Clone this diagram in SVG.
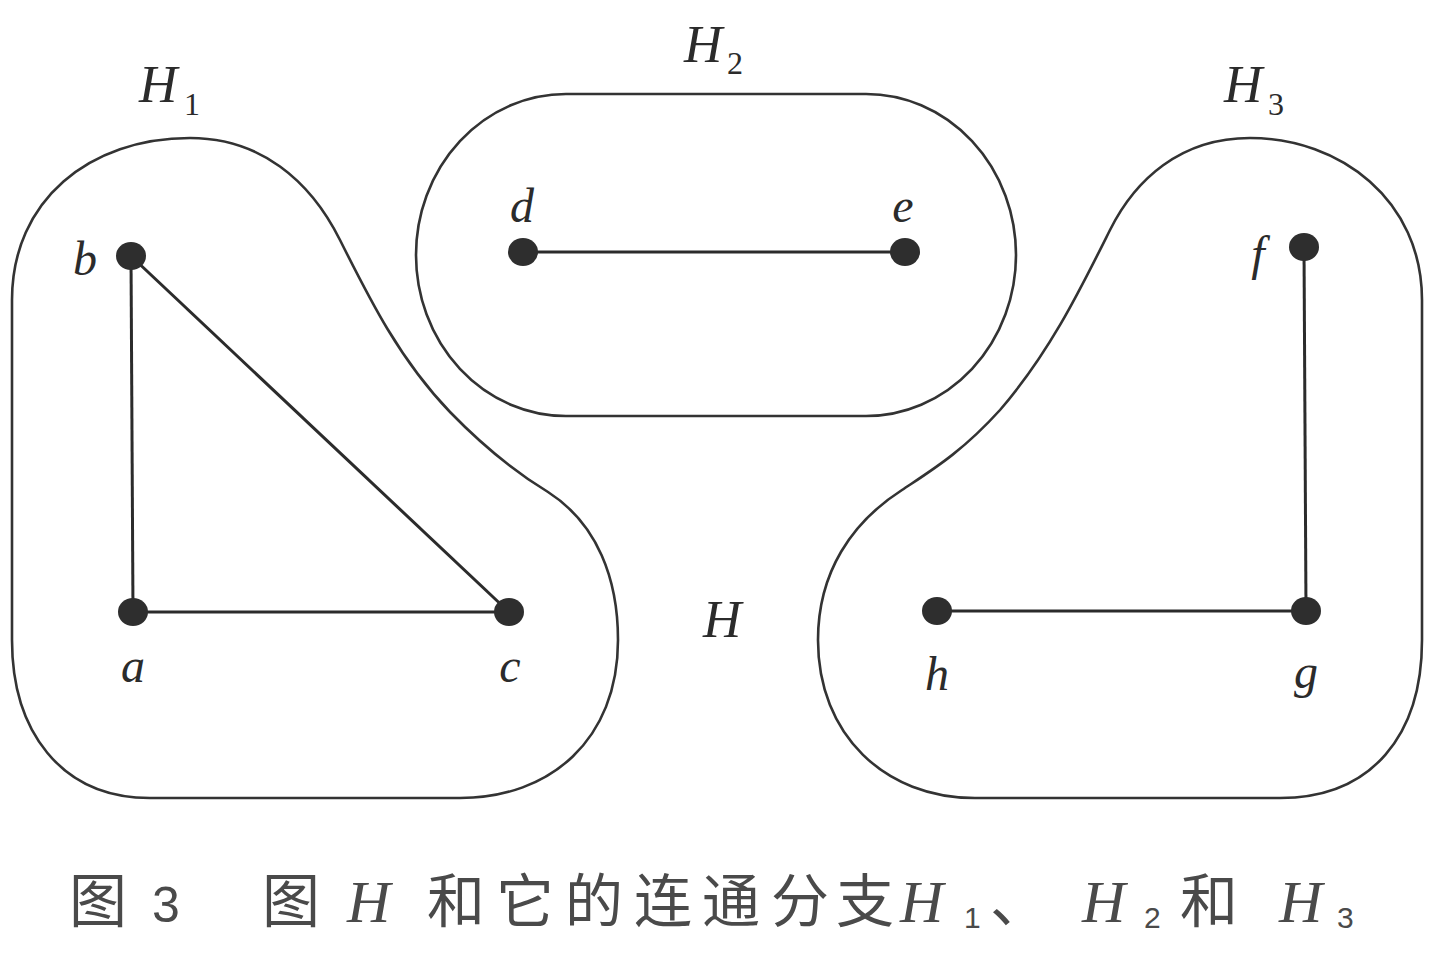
<svg xmlns="http://www.w3.org/2000/svg" width="1440" height="956" viewBox="0 0 1440 956">
<defs>
<style>
.outline{fill:none;stroke:#333;stroke-width:2.6}
.edge{fill:none;stroke:#2b2b2b;stroke-width:3}
.node{fill:#2e2e2e}
.lbl{font-family:"Liberation Serif","DejaVu Serif",serif;font-style:italic;font-size:48px;fill:#2b2b2b;text-anchor:middle}
.big{font-family:"Liberation Serif","DejaVu Serif",serif;font-style:italic;font-size:53px;fill:#2b2b2b}
.sub{font-family:"Liberation Serif","DejaVu Serif",serif;font-size:32px;fill:#2b2b2b}
.cj{font-family:"Noto Sans CJK SC","Noto Sans",sans-serif;font-size:58px;fill:#4a4a4a}
.cn{font-family:"Liberation Sans","DejaVu Sans",sans-serif;font-size:50px;fill:#4a4a4a}
.ch{font-family:"Liberation Serif",serif;font-style:italic;font-size:60px;fill:#4a4a4a}
.cs{font-family:"Liberation Sans",sans-serif;font-size:30px;fill:#4a4a4a}
</style>
</defs>
<rect width="1440" height="956" fill="#ffffff"/>

<g id="components">
<g id="H1">
<path class="outline" d="M 12,300 C 12,200 90,138 190,138 C 260,138 310,180 340,240 C 370,300 400,360 450,412 C 485,448 515,472 548,492 C 598,524 618,580 618,640 C 618,740 550,798 460,798 L 150,798 C 60,798 12,730 12,640 Z"/>
<text class="big" x="139" y="102">H</text><text class="sub" x="184" y="115">1</text>
</g>
<g id="H2">
<path class="outline" d="M 566,94 L 866,94 A 150,161 0 0 1 866,416 L 566,416 A 150,161 0 0 1 566,94 Z"/>
<text class="big" x="684" y="62">H</text><text class="sub" x="727" y="74">2</text>
</g>
<g id="H3">
<path class="outline" d="M 1422,300 C 1422,200 1340,138 1250,138 C 1180,138 1135,180 1110,230 C 1080,290 1050,352 1000,410 C 962,452 932,470 902,490 C 852,522 818,572 818,640 C 818,735 885,798 975,798 L 1280,798 C 1372,798 1422,735 1422,640 Z"/>
<text class="big" x="1224" y="102">H</text><text class="sub" x="1268" y="115">3</text>
</g>
<text class="big" x="703" y="637">H</text>
</g>

<g id="connectors">
<line class="edge" x1="131" y1="256" x2="133" y2="612"/>
<line class="edge" x1="131" y1="256" x2="509" y2="612"/>
<line class="edge" x1="133" y1="612" x2="509" y2="612"/>
<line class="edge" x1="523" y1="252" x2="905" y2="252"/>
<line class="edge" x1="1304" y1="247" x2="1306" y2="611"/>
<line class="edge" x1="937" y1="611" x2="1306" y2="611"/>
</g>

<g id="node-a"><ellipse class="node" cx="133" cy="612" rx="15" ry="14"/><text class="lbl" x="133" y="682">a</text></g>
<g id="node-b"><ellipse class="node" cx="131" cy="256" rx="15" ry="14"/><text class="lbl" x="85" y="275">b</text></g>
<g id="node-c"><ellipse class="node" cx="509" cy="612" rx="15" ry="14"/><text class="lbl" x="510" y="682">c</text></g>
<g id="node-d"><ellipse class="node" cx="523" cy="252" rx="15" ry="14"/><text class="lbl" x="522" y="222">d</text></g>
<g id="node-e"><ellipse class="node" cx="905" cy="252" rx="15" ry="14"/><text class="lbl" x="903" y="222">e</text></g>
<g id="node-f"><ellipse class="node" cx="1304" cy="247" rx="15" ry="14"/><text class="lbl" x="1258" y="270">f</text></g>
<g id="node-g"><ellipse class="node" cx="1306" cy="611" rx="15" ry="14"/><text class="lbl" x="1306" y="688">g</text></g>
<g id="node-h"><ellipse class="node" cx="937" cy="611" rx="15" ry="14"/><text class="lbl" x="937" y="690">h</text></g>

<g id="caption">
<text class="cj" x="69" y="922">图</text>
<text class="cn" x="152" y="922">3</text>
<text class="cj" x="262" y="922">图</text>
<text class="ch" x="347" y="922">H</text>
<text class="cj" x="427" y="922">和</text>
<text class="cj" x="496" y="922">它</text>
<text class="cj" x="565" y="922">的</text>
<text class="cj" x="634" y="922">连</text>
<text class="cj" x="702" y="922">通</text>
<text class="cj" x="771" y="922">分</text>
<text class="cj" x="836" y="922">支</text>
<text class="ch" x="900" y="922">H</text>
<text class="cs" x="964" y="928">1</text>
<text class="cj" x="990" y="922">、</text>
<text class="ch" x="1082" y="922">H</text>
<text class="cs" x="1144" y="928">2</text>
<text class="cj" x="1180" y="922">和</text>
<text class="ch" x="1279" y="922">H</text>
<text class="cs" x="1337" y="928">3</text>
</g>
</svg>
